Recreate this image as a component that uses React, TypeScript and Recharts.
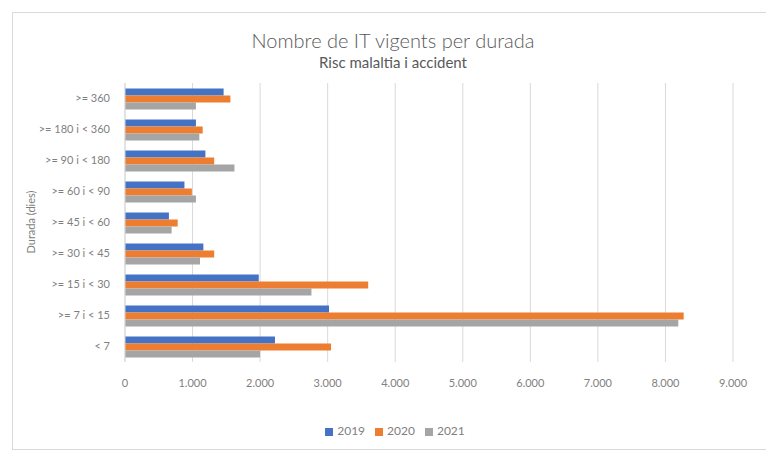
import { BarChart, Bar, XAxis, YAxis, CartesianGrid, Legend } from "recharts";

const durations = [
  ">= 360",
  ">= 180 i < 360",
  ">= 90 i < 180",
  ">= 60 i < 90",
  ">= 45 i < 60",
  ">= 30 i < 45",
  ">= 15 i < 30",
  ">= 7 i < 15",
  "< 7",
];
const y2019 = [1460, 1050, 1190, 880, 650, 1160, 1980, 3020, 2220];
const y2020 = [1560, 1150, 1320, 990, 780, 1320, 3600, 8270, 3050];
const y2021 = [1050, 1100, 1620, 1050, 690, 1110, 2760, 8190, 2000];
const xTicks = [0, 1000, 2000, 3000, 4000, 5000, 6000, 7000, 8000, 9000];

const COLORS = { y2019: "#4472C4", y2020: "#ED7D31", y2021: "#A5A5A5" };
const FONT = "Lato, 'Open Sans', sans-serif";

const data = durations.map((d, i) => ({ durada: d, y2019: y2019[i], y2020: y2020[i], y2021: y2021[i] }));

const fmt = (v: number) => v.toLocaleString("de-DE");

export default function App() {
  return (
    <div style={{ position: "absolute", left: 0, top: 0, width: 766, height: 450, background: "#fff", fontFamily: FONT }}>
      <div style={{ position: "absolute", left: 12, top: 12, width: 770, height: 436, border: "1px solid #d9d9d9" }} />
      <div style={{ position: "absolute", top: 28, width: 786, textAlign: "center", fontSize: 20, color: "#595959", fontWeight: 300 }}>
        Nombre de IT vigents per durada
      </div>
      <div style={{ position: "absolute", top: 53, width: 786, textAlign: "center", fontSize: 15, color: "#595959" }}>
        Risc malaltia i accident
      </div>
      <div
        style={{
          position: "absolute", left: 30, top: 222, fontSize: 11, color: "#7f7f7f",
          transform: "translate(-50%, -50%) rotate(-90deg)", whiteSpace: "nowrap",
        }}
      >
        Durada (dies)
      </div>
      <div style={{ position: "absolute", left: 0, top: 0 }}>
        <BarChart
          width={766}
          height={450}
          data={data}
          layout="vertical"
          margin={{ top: 83, right: 33, left: 0, bottom: 43 }}
          barCategoryGap="18%"
          barGap={0}
        >
          <CartesianGrid horizontal={false} stroke="#d9d9d9" />
          <XAxis
            type="number"
            domain={[0, 9000]}
            ticks={xTicks}
            tickFormatter={fmt}
            axisLine={false}
            tickLine={false}
            tickMargin={11}
            tick={{ fontSize: 11, fill: "#7f7f7f", fontFamily: FONT }}
          />
          <YAxis
            type="category"
            dataKey="durada"
            width={125}
            axisLine={{ stroke: "#d9d9d9" }}
            tickLine={false}
            tickMargin={9}
            tick={{ fontSize: 11, fill: "#7f7f7f", fontFamily: FONT }}
            interval={0}
          />
          <Legend
            iconType="square"
            iconSize={8}
            wrapperStyle={{ top: 423, left: 0, width: 800, fontSize: 12, color: "#595959" }}
            formatter={(v: string) => <span style={{ color: "#7f7f7f" }}>{v}</span>}
          />
          <Bar dataKey="y2019" name="2019" fill={COLORS.y2019} isAnimationActive={false} />
          <Bar dataKey="y2020" name="2020" fill={COLORS.y2020} isAnimationActive={false} />
          <Bar dataKey="y2021" name="2021" fill={COLORS.y2021} isAnimationActive={false} />
        </BarChart>
      </div>
    </div>
  );
}
